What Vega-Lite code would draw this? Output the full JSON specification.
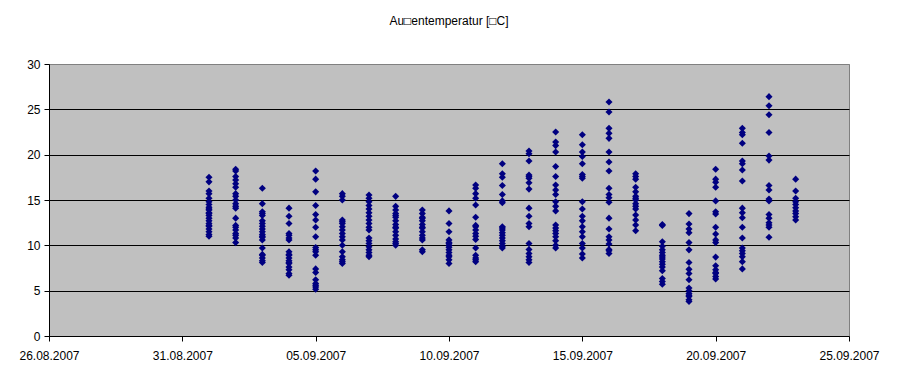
{
  "$schema": "https://vega.github.io/schema/vega-lite/v6.json",
  "width": 800,
  "height": 272,
  "autosize": {"type": "none"},
  "padding": {"left": 49, "top": 64, "right": 49, "bottom": 48},
  "background": "white",
  "title": {
    "text": "Au□entemperatur [□C]",
    "frame": "group",
    "anchor": "middle",
    "offset": 30,
    "font": "Liberation Sans",
    "fontSize": 12,
    "fontWeight": "normal",
    "color": "black"
  },
  "config": {
    "view": {"fill": "#C0C0C0", "stroke": "#808080", "strokeWidth": 1},
    "axis": {
      "domainColor": "black",
      "tickColor": "black",
      "labelColor": "black",
      "labelFont": "Liberation Sans",
      "labelFontSize": 12,
      "tickSize": 5,
      "title": null,
      "gridColor": "black",
      "gridOpacity": 1
    }
  },
  "data": {
    "values": [
      {"d":"2007-09-01","t":17.5},{"d":"2007-09-01","t":17.0},{"d":"2007-09-01","t":16.0},{"d":"2007-09-01","t":15.7},{"d":"2007-09-01","t":15.2},{"d":"2007-09-01","t":14.8},{"d":"2007-09-01","t":14.5},{"d":"2007-09-01","t":14.2},{"d":"2007-09-01","t":13.9},{"d":"2007-09-01","t":13.6},{"d":"2007-09-01","t":13.3},{"d":"2007-09-01","t":13.0},{"d":"2007-09-01","t":12.7},{"d":"2007-09-01","t":12.4},{"d":"2007-09-01","t":12.1},{"d":"2007-09-01","t":11.8},{"d":"2007-09-01","t":11.5},{"d":"2007-09-01","t":11.2},{"d":"2007-09-01","t":11.0},{"d":"2007-09-01","t":12.2},{"d":"2007-09-01","t":13.5},{"d":"2007-09-01","t":14.0},
      {"d":"2007-09-02","t":18.4},{"d":"2007-09-02","t":18.2},{"d":"2007-09-02","t":17.6},{"d":"2007-09-02","t":17.2},{"d":"2007-09-02","t":16.8},{"d":"2007-09-02","t":16.4},{"d":"2007-09-02","t":15.7},{"d":"2007-09-02","t":15.4},{"d":"2007-09-02","t":15.0},{"d":"2007-09-02","t":14.6},{"d":"2007-09-02","t":14.3},{"d":"2007-09-02","t":14.1},{"d":"2007-09-02","t":13.0},{"d":"2007-09-02","t":12.0},{"d":"2007-09-02","t":11.7},{"d":"2007-09-02","t":11.1},{"d":"2007-09-02","t":10.8},{"d":"2007-09-02","t":10.3},{"d":"2007-09-02","t":11.3},{"d":"2007-09-02","t":12.2},
      {"d":"2007-09-03","t":16.3},{"d":"2007-09-03","t":14.6},{"d":"2007-09-03","t":13.7},{"d":"2007-09-03","t":13.3},{"d":"2007-09-03","t":12.4},{"d":"2007-09-03","t":12.1},{"d":"2007-09-03","t":11.8},{"d":"2007-09-03","t":11.5},{"d":"2007-09-03","t":11.2},{"d":"2007-09-03","t":10.9},{"d":"2007-09-03","t":10.6},{"d":"2007-09-03","t":9.7},{"d":"2007-09-03","t":8.9},{"d":"2007-09-03","t":8.6},{"d":"2007-09-03","t":8.3},{"d":"2007-09-03","t":8.1},{"d":"2007-09-03","t":12.7},{"d":"2007-09-03","t":13.5},{"d":"2007-09-03","t":11.0},{"d":"2007-09-03","t":9.0},
      {"d":"2007-09-04","t":14.1},{"d":"2007-09-04","t":13.2},{"d":"2007-09-04","t":12.4},{"d":"2007-09-04","t":11.1},{"d":"2007-09-04","t":10.8},{"d":"2007-09-04","t":10.6},{"d":"2007-09-04","t":9.3},{"d":"2007-09-04","t":8.9},{"d":"2007-09-04","t":8.6},{"d":"2007-09-04","t":8.3},{"d":"2007-09-04","t":8.0},{"d":"2007-09-04","t":7.6},{"d":"2007-09-04","t":7.3},{"d":"2007-09-04","t":6.9},{"d":"2007-09-04","t":6.7},{"d":"2007-09-04","t":9.0},{"d":"2007-09-04","t":11.3},{"d":"2007-09-04","t":8.1},
      {"d":"2007-09-05","t":18.2},{"d":"2007-09-05","t":17.3},{"d":"2007-09-05","t":15.9},{"d":"2007-09-05","t":14.4},{"d":"2007-09-05","t":13.4},{"d":"2007-09-05","t":12.8},{"d":"2007-09-05","t":12.0},{"d":"2007-09-05","t":10.95},{"d":"2007-09-05","t":9.75},{"d":"2007-09-05","t":9.3},{"d":"2007-09-05","t":8.9},{"d":"2007-09-05","t":7.4},{"d":"2007-09-05","t":7.0},{"d":"2007-09-05","t":6.2},{"d":"2007-09-05","t":5.8},{"d":"2007-09-05","t":5.4},{"d":"2007-09-05","t":5.15},{"d":"2007-09-05","t":5.6},{"d":"2007-09-05","t":9.5},
      {"d":"2007-09-06","t":15.7},{"d":"2007-09-06","t":15.0},{"d":"2007-09-06","t":15.4},{"d":"2007-09-06","t":12.8},{"d":"2007-09-06","t":12.4},{"d":"2007-09-06","t":12.05},{"d":"2007-09-06","t":11.7},{"d":"2007-09-06","t":11.3},{"d":"2007-09-06","t":10.95},{"d":"2007-09-06","t":10.6},{"d":"2007-09-06","t":10.0},{"d":"2007-09-06","t":9.3},{"d":"2007-09-06","t":8.75},{"d":"2007-09-06","t":8.4},{"d":"2007-09-06","t":8.0},{"d":"2007-09-06","t":8.2},{"d":"2007-09-06","t":12.6},
      {"d":"2007-09-07","t":15.55},{"d":"2007-09-07","t":15.2},{"d":"2007-09-07","t":14.8},{"d":"2007-09-07","t":14.4},{"d":"2007-09-07","t":14.0},{"d":"2007-09-07","t":13.6},{"d":"2007-09-07","t":13.2},{"d":"2007-09-07","t":12.8},{"d":"2007-09-07","t":12.4},{"d":"2007-09-07","t":12.0},{"d":"2007-09-07","t":11.7},{"d":"2007-09-07","t":10.8},{"d":"2007-09-07","t":10.5},{"d":"2007-09-07","t":10.2},{"d":"2007-09-07","t":9.85},{"d":"2007-09-07","t":9.5},{"d":"2007-09-07","t":9.2},{"d":"2007-09-07","t":8.9},{"d":"2007-09-07","t":8.75},
      {"d":"2007-09-08","t":15.4},{"d":"2007-09-08","t":14.3},{"d":"2007-09-08","t":13.9},{"d":"2007-09-08","t":13.5},{"d":"2007-09-08","t":13.1},{"d":"2007-09-08","t":12.7},{"d":"2007-09-08","t":12.3},{"d":"2007-09-08","t":11.9},{"d":"2007-09-08","t":11.5},{"d":"2007-09-08","t":11.1},{"d":"2007-09-08","t":10.7},{"d":"2007-09-08","t":10.4},{"d":"2007-09-08","t":10.2},{"d":"2007-09-08","t":10.0},{"d":"2007-09-08","t":12.0},{"d":"2007-09-08","t":13.3},
      {"d":"2007-09-09","t":13.9},{"d":"2007-09-09","t":13.5},{"d":"2007-09-09","t":13.1},{"d":"2007-09-09","t":12.7},{"d":"2007-09-09","t":12.3},{"d":"2007-09-09","t":11.9},{"d":"2007-09-09","t":11.5},{"d":"2007-09-09","t":11.1},{"d":"2007-09-09","t":10.8},{"d":"2007-09-09","t":10.6},{"d":"2007-09-09","t":9.5},{"d":"2007-09-09","t":9.3},{"d":"2007-09-09","t":12.0},{"d":"2007-09-09","t":13.0},
      {"d":"2007-09-10","t":13.8},{"d":"2007-09-10","t":12.4},{"d":"2007-09-10","t":11.5},{"d":"2007-09-10","t":10.6},{"d":"2007-09-10","t":10.3},{"d":"2007-09-10","t":10.0},{"d":"2007-09-10","t":9.8},{"d":"2007-09-10","t":9.5},{"d":"2007-09-10","t":9.2},{"d":"2007-09-10","t":8.9},{"d":"2007-09-10","t":8.75},{"d":"2007-09-10","t":8.4},{"d":"2007-09-10","t":8.0},{"d":"2007-09-10","t":10.2},
      {"d":"2007-09-11","t":16.65},{"d":"2007-09-11","t":16.3},{"d":"2007-09-11","t":15.7},{"d":"2007-09-11","t":15.2},{"d":"2007-09-11","t":14.45},{"d":"2007-09-11","t":13.1},{"d":"2007-09-11","t":12.05},{"d":"2007-09-11","t":11.7},{"d":"2007-09-11","t":11.3},{"d":"2007-09-11","t":11.0},{"d":"2007-09-11","t":10.65},{"d":"2007-09-11","t":9.7},{"d":"2007-09-11","t":8.9},{"d":"2007-09-11","t":8.6},{"d":"2007-09-11","t":8.2},{"d":"2007-09-11","t":8.4},{"d":"2007-09-11","t":12.2},
      {"d":"2007-09-12","t":19.0},{"d":"2007-09-12","t":17.9},{"d":"2007-09-12","t":17.5},{"d":"2007-09-12","t":16.6},{"d":"2007-09-12","t":15.6},{"d":"2007-09-12","t":14.9},{"d":"2007-09-12","t":14.7},{"d":"2007-09-12","t":12.05},{"d":"2007-09-12","t":11.7},{"d":"2007-09-12","t":11.4},{"d":"2007-09-12","t":11.1},{"d":"2007-09-12","t":10.8},{"d":"2007-09-12","t":10.5},{"d":"2007-09-12","t":10.2},{"d":"2007-09-12","t":9.9},{"d":"2007-09-12","t":9.7},{"d":"2007-09-12","t":11.9},
      {"d":"2007-09-13","t":20.4},{"d":"2007-09-13","t":20.1},{"d":"2007-09-13","t":19.3},{"d":"2007-09-13","t":17.75},{"d":"2007-09-13","t":17.4},{"d":"2007-09-13","t":16.9},{"d":"2007-09-13","t":16.2},{"d":"2007-09-13","t":14.1},{"d":"2007-09-13","t":13.2},{"d":"2007-09-13","t":12.4},{"d":"2007-09-13","t":12.05},{"d":"2007-09-13","t":10.2},{"d":"2007-09-13","t":9.55},{"d":"2007-09-13","t":9.1},{"d":"2007-09-13","t":8.75},{"d":"2007-09-13","t":8.4},{"d":"2007-09-13","t":8.1},{"d":"2007-09-13","t":17.6},
      {"d":"2007-09-14","t":22.5},{"d":"2007-09-14","t":21.4},{"d":"2007-09-14","t":21.0},{"d":"2007-09-14","t":20.3},{"d":"2007-09-14","t":18.7},{"d":"2007-09-14","t":17.6},{"d":"2007-09-14","t":16.65},{"d":"2007-09-14","t":16.1},{"d":"2007-09-14","t":15.6},{"d":"2007-09-14","t":14.8},{"d":"2007-09-14","t":14.3},{"d":"2007-09-14","t":13.8},{"d":"2007-09-14","t":12.25},{"d":"2007-09-14","t":11.9},{"d":"2007-09-14","t":11.6},{"d":"2007-09-14","t":11.3},{"d":"2007-09-14","t":10.95},{"d":"2007-09-14","t":10.5},{"d":"2007-09-14","t":10.0},{"d":"2007-09-14","t":9.7},
      {"d":"2007-09-15","t":22.2},{"d":"2007-09-15","t":21.1},{"d":"2007-09-15","t":20.3},{"d":"2007-09-15","t":19.8},{"d":"2007-09-15","t":19.0},{"d":"2007-09-15","t":17.6},{"d":"2007-09-15","t":17.4},{"d":"2007-09-15","t":14.8},{"d":"2007-09-15","t":14.0},{"d":"2007-09-15","t":13.2},{"d":"2007-09-15","t":12.7},{"d":"2007-09-15","t":12.05},{"d":"2007-09-15","t":11.5},{"d":"2007-09-15","t":10.95},{"d":"2007-09-15","t":10.2},{"d":"2007-09-15","t":9.7},{"d":"2007-09-15","t":9.05},{"d":"2007-09-15","t":8.6},{"d":"2007-09-15","t":17.8},
      {"d":"2007-09-16","t":25.8},{"d":"2007-09-16","t":24.7},{"d":"2007-09-16","t":22.9},{"d":"2007-09-16","t":22.35},{"d":"2007-09-16","t":21.8},{"d":"2007-09-16","t":20.3},{"d":"2007-09-16","t":19.2},{"d":"2007-09-16","t":18.2},{"d":"2007-09-16","t":16.3},{"d":"2007-09-16","t":15.6},{"d":"2007-09-16","t":15.25},{"d":"2007-09-16","t":14.75},{"d":"2007-09-16","t":13.0},{"d":"2007-09-16","t":11.8},{"d":"2007-09-16","t":10.95},{"d":"2007-09-16","t":10.6},{"d":"2007-09-16","t":10.15},{"d":"2007-09-16","t":9.55},{"d":"2007-09-16","t":9.1},{"d":"2007-09-16","t":9.4},
      {"d":"2007-09-17","t":17.9},{"d":"2007-09-17","t":17.3},{"d":"2007-09-17","t":16.4},{"d":"2007-09-17","t":15.9},{"d":"2007-09-17","t":15.4},{"d":"2007-09-17","t":15.0},{"d":"2007-09-17","t":14.6},{"d":"2007-09-17","t":14.3},{"d":"2007-09-17","t":13.35},{"d":"2007-09-17","t":12.8},{"d":"2007-09-17","t":12.25},{"d":"2007-09-17","t":11.6},{"d":"2007-09-17","t":17.6},{"d":"2007-09-17","t":15.2},{"d":"2007-09-17","t":14.0},
      {"d":"2007-09-18","t":12.2},{"d":"2007-09-18","t":12.3},{"d":"2007-09-18","t":10.4},{"d":"2007-09-18","t":9.9},{"d":"2007-09-18","t":9.5},{"d":"2007-09-18","t":9.2},{"d":"2007-09-18","t":8.9},{"d":"2007-09-18","t":8.5},{"d":"2007-09-18","t":8.2},{"d":"2007-09-18","t":7.6},{"d":"2007-09-18","t":7.2},{"d":"2007-09-18","t":6.35},{"d":"2007-09-18","t":6.0},{"d":"2007-09-18","t":5.7},{"d":"2007-09-18","t":8.7},{"d":"2007-09-18","t":7.9},
      {"d":"2007-09-19","t":13.5},{"d":"2007-09-19","t":12.35},{"d":"2007-09-19","t":11.8},{"d":"2007-09-19","t":11.4},{"d":"2007-09-19","t":10.3},{"d":"2007-09-19","t":9.5},{"d":"2007-09-19","t":8.1},{"d":"2007-09-19","t":7.35},{"d":"2007-09-19","t":6.9},{"d":"2007-09-19","t":6.2},{"d":"2007-09-19","t":5.0},{"d":"2007-09-19","t":4.7},{"d":"2007-09-19","t":4.35},{"d":"2007-09-19","t":4.0},{"d":"2007-09-19","t":3.8},{"d":"2007-09-19","t":4.5},{"d":"2007-09-19","t":5.3},
      {"d":"2007-09-20","t":18.4},{"d":"2007-09-20","t":17.3},{"d":"2007-09-20","t":16.95},{"d":"2007-09-20","t":16.4},{"d":"2007-09-20","t":14.9},{"d":"2007-09-20","t":13.7},{"d":"2007-09-20","t":13.45},{"d":"2007-09-20","t":12.0},{"d":"2007-09-20","t":11.25},{"d":"2007-09-20","t":10.3},{"d":"2007-09-20","t":10.6},{"d":"2007-09-20","t":8.7},{"d":"2007-09-20","t":7.75},{"d":"2007-09-20","t":7.3},{"d":"2007-09-20","t":6.9},{"d":"2007-09-20","t":6.55},{"d":"2007-09-20","t":6.3},{"d":"2007-09-20","t":7.0},
      {"d":"2007-09-21","t":22.9},{"d":"2007-09-21","t":22.45},{"d":"2007-09-21","t":22.2},{"d":"2007-09-21","t":21.25},{"d":"2007-09-21","t":19.3},{"d":"2007-09-21","t":19.0},{"d":"2007-09-21","t":18.3},{"d":"2007-09-21","t":17.1},{"d":"2007-09-21","t":14.1},{"d":"2007-09-21","t":13.6},{"d":"2007-09-21","t":13.05},{"d":"2007-09-21","t":12.0},{"d":"2007-09-21","t":10.8},{"d":"2007-09-21","t":9.7},{"d":"2007-09-21","t":9.1},{"d":"2007-09-21","t":8.75},{"d":"2007-09-21","t":8.2},{"d":"2007-09-21","t":7.4},{"d":"2007-09-21","t":9.4},
      {"d":"2007-09-22","t":26.4},{"d":"2007-09-22","t":25.4},{"d":"2007-09-22","t":24.4},{"d":"2007-09-22","t":22.45},{"d":"2007-09-22","t":19.85},{"d":"2007-09-22","t":19.4},{"d":"2007-09-22","t":16.6},{"d":"2007-09-22","t":16.1},{"d":"2007-09-22","t":14.9},{"d":"2007-09-22","t":15.1},{"d":"2007-09-22","t":13.4},{"d":"2007-09-22","t":13.0},{"d":"2007-09-22","t":12.25},{"d":"2007-09-22","t":12.0},{"d":"2007-09-22","t":10.9},{"d":"2007-09-22","t":12.5},
      {"d":"2007-09-23","t":17.3},{"d":"2007-09-23","t":16.0},{"d":"2007-09-23","t":15.2},{"d":"2007-09-23","t":14.5},{"d":"2007-09-23","t":14.15},{"d":"2007-09-23","t":13.8},{"d":"2007-09-23","t":13.15},{"d":"2007-09-23","t":12.8},{"d":"2007-09-23","t":14.8},{"d":"2007-09-23","t":13.5}
    ]
  },
  "mark": {"type": "point", "shape": "diamond", "filled": true, "size": 50, "color": "#000080", "opacity": 1},
  "encoding": {
    "x": {
      "field": "d",
      "type": "temporal",
      "scale": {
        "type": "utc",
        "domain": [
          {"year": 2007, "month": 8, "date": 26, "utc": true},
          {"year": 2007, "month": 9, "date": 25, "utc": true}
        ]
      },
      "axis": {
        "format": "%d.%m.%Y",
        "grid": false,
        "values": [
          {"year": 2007, "month": 8, "date": 26, "utc": true},
          {"year": 2007, "month": 8, "date": 31, "utc": true},
          {"year": 2007, "month": 9, "date": 5, "utc": true},
          {"year": 2007, "month": 9, "date": 10, "utc": true},
          {"year": 2007, "month": 9, "date": 15, "utc": true},
          {"year": 2007, "month": 9, "date": 20, "utc": true},
          {"year": 2007, "month": 9, "date": 25, "utc": true}
        ],
        "labelPadding": 9,
        "labelFlush": false,
        "labelOverlap": false
      }
    },
    "y": {
      "field": "t",
      "type": "quantitative",
      "scale": {"domain": [0, 30], "nice": false, "zero": true},
      "axis": {
        "values": [0, 5, 10, 15, 20, 25, 30],
        "grid": true,
        "gridColor": {"condition": {"test": "datum.value === 30 || datum.value === 0", "value": "#808080"}, "value": "black"},
        "labelPadding": 4,
        "labelFlush": false
      }
    }
  }
}
